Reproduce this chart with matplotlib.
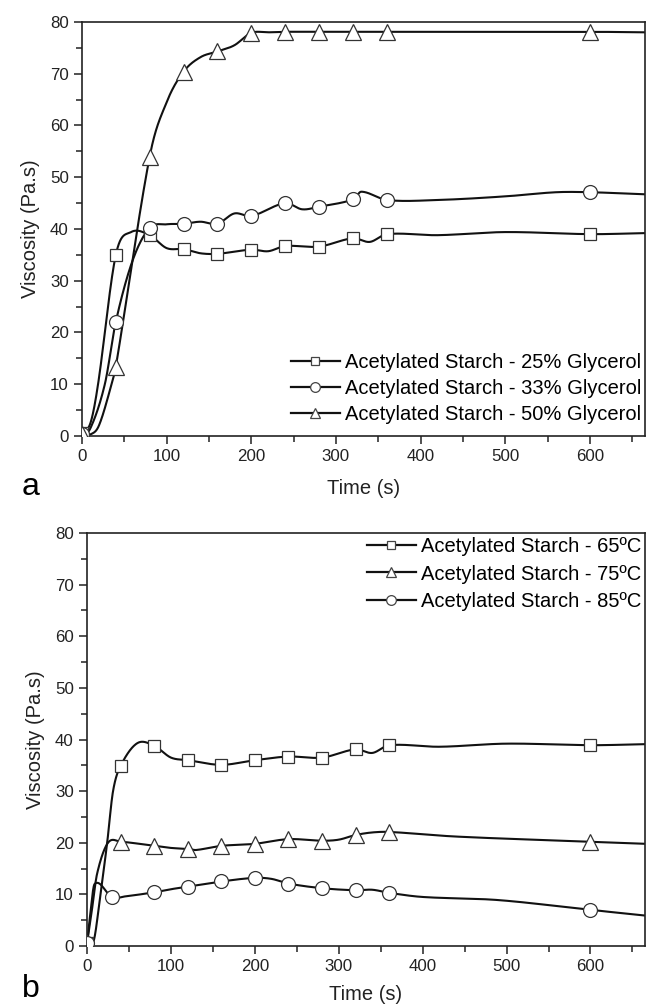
import numpy as np
import matplotlib
matplotlib.use("Agg")
import matplotlib.pyplot as plt
from matplotlib.ticker import MultipleLocator

plt.rcParams['font.family'] = ['Liberation Sans', 'DejaVu Sans']

# ---- panel a: glycerol content ----
t_a = [0, 40, 80, 120, 160, 200, 240, 280, 320, 360, 600]
g25 = [0.5, 35, 38.8, 36.1, 35.2, 36, 36.7, 36.6, 38.2, 39, 39]
g33 = [0.3, 22.1, 40.2, 41, 41, 42.5, 45, 44.3, 45.7, 45.6, 47.1]
g50 = [0.3, 13.4, 54, 70.4, 74.3, 77.9, 78.1, 78.1, 78.1, 78.1, 78.1]
# readings of the curve between the markers (line only)
g25_t = [10, 19, 58, 100, 140, 220, 340, 420, 500, 665]
g25_v = [2.5, 10, 39.4, 36.3, 35.3, 35.7, 37.5, 38.8, 39.4, 39.2]
g33_t = [10, 27, 60, 100, 140, 180, 260, 330, 420, 500, 560, 665]
g33_v = [1.5, 10, 34, 40.9, 41.4, 43.0, 43.8, 47.2, 45.6, 46.3, 47.1, 46.7]
g50_t = [10, 20, 35, 100, 140, 180, 220, 665]
g50_v = [0.3, 2, 10, 64.5, 73.2, 75.5, 78, 78]

# ---- panel b: temperature ----
t_b = [0, 40, 80, 120, 160, 200, 240, 280, 320, 360, 600]
t_b85 = [0, 30, 80, 120, 160, 200, 240, 280, 320, 360, 600]
c65 = [0.5, 34.9, 38.8, 36, 35.1, 36, 36.7, 36.5, 38.1, 38.9, 38.9]
c75 = [0.5, 20.2, 19.4, 18.8, 19.4, 19.8, 20.7, 20.4, 21.5, 22.1, 20.2]
c85 = [0.5, 9.4, 10.4, 11.5, 12.5, 13.2, 12.1, 11.2, 10.8, 10.3, 7.0]
c65_t = [8, 16, 24, 31, 60, 100, 340, 420, 500, 665]
c65_v = [1, 10, 20, 30, 39.3, 36.5, 37.4, 38.6, 39.2, 39.1]
c75_t = [5, 12, 25, 100, 130, 300, 340, 440, 665]
c75_v = [6, 14, 20, 19.0, 18.6, 20.6, 22, 21.2, 19.8]
c85_t = [3, 9, 45, 100, 220, 340, 400, 490, 665]
c85_v = [5, 12, 9.6, 11, 13, 10.9, 9.5, 8.9, 5.9]

labels_a = ['Acetylated Starch - 25% Glycerol',
            'Acetylated Starch - 33% Glycerol',
            'Acetylated Starch - 50% Glycerol']
labels_b = ['Acetylated Starch - 65ºC',
            'Acetylated Starch - 75ºC',
            'Acetylated Starch - 85ºC']


def smooth(t1, v1, t2, v2, n=1500):
    # cubic hermite through all knots, catmull-rom slopes
    x = np.array(list(t1) + list(t2), float)
    y = np.array(list(v1) + list(v2), float)
    o = np.argsort(x)
    x, y = x[o], y[o]
    m = np.zeros_like(y)
    m[1:-1] = (y[2:] - y[:-2]) / (x[2:] - x[:-2])
    m[0] = (y[1] - y[0]) / (x[1] - x[0])
    m[-1] = (y[-1] - y[-2]) / (x[-1] - x[-2])
    xs = np.linspace(x[0], x[-1], n)
    i = np.clip(np.searchsorted(x, xs) - 1, 0, len(x) - 2)
    h = x[i + 1] - x[i]
    s = (xs - x[i]) / h
    h00 = 2 * s**3 - 3 * s**2 + 1
    h10 = s**3 - 2 * s**2 + s
    h01 = -2 * s**3 + 3 * s**2
    h11 = s**3 - s**2
    ys = h00 * y[i] + h10 * h * m[i] + h01 * y[i + 1] + h11 * h * m[i + 1]
    return xs, ys


def series(ax, t, v, tx, vx, marker, ms, label):
    xs, ys = smooth(t, v, tx, vx)
    ax.plot(xs, ys, color='#111111', lw=1.5, zorder=2)
    ax.plot(t, v, ls='none', marker=marker, ms=ms, mfc='white',
            mec='#333333', mew=0.9, zorder=3)
    # legend proxy
    ax.plot([], [], color='#111111', lw=1.6, marker=marker, ms=ms * 0.7,
            mfc='white', mec='#444444', mew=0.9, label=label)


def style(ax):
    ax.set_xlim(0, 665)
    ax.set_ylim(0, 80)
    ax.xaxis.set_major_locator(MultipleLocator(100))
    ax.xaxis.set_minor_locator(MultipleLocator(50))
    ax.yaxis.set_major_locator(MultipleLocator(10))
    ax.yaxis.set_minor_locator(MultipleLocator(5))
    ax.tick_params(which='both', direction='out', top=False, right=False,
                   width=1.1, labelsize=12.2, pad=3.5, colors='#222222')
    ax.tick_params(which='major', length=6)
    ax.tick_params(which='minor', length=4)
    for sp in ax.spines.values():
        sp.set_linewidth(1.2)
        sp.set_color('#222222')
    ax.set_ylabel('Viscosity (Pa.s)', fontsize=14.5, labelpad=7, color='#222222')


fig = plt.figure(figsize=(6.47, 10.08), dpi=100)
ax1 = fig.add_axes([0.1267, 0.5675, 0.9969 - 0.1267, 0.9782 - 0.5675])
ax2 = fig.add_axes([0.1345, 0.0615, 0.9969 - 0.1345, 0.4712 - 0.0615])

series(ax1, t_a, g25, g25_t, g25_v, 's', 9, labels_a[0])
series(ax1, t_a, g33, g33_t, g33_v, 'o', 10, labels_a[1])
series(ax1, t_a, g50, g50_t, g50_v, '^', 11, labels_a[2])
style(ax1)
ax1.set_xlabel('Time (s)', fontsize=14.5, labelpad=11, color='#222222')
ax1.legend(loc='lower right', bbox_to_anchor=(1.0, 0.02), frameon=False,
           fontsize=14.5, handlelength=2.4, handletextpad=0.25,
           labelspacing=0.33, borderaxespad=0.0, borderpad=0.2)

series(ax2, t_b, c65, c65_t, c65_v, 's', 9, labels_b[0])
series(ax2, t_b, c75, c75_t, c75_v, '^', 11, labels_b[1])
series(ax2, t_b85, c85, c85_t, c85_v, 'o', 10, labels_b[2])
style(ax2)
ax2.set_xlabel('Time (s)', fontsize=14.5, labelpad=8, color='#222222')
ax2.legend(loc='upper right', bbox_to_anchor=(1.0, 1.0), frameon=False,
           fontsize=14.5, handlelength=2.4, handletextpad=0.25,
           labelspacing=0.42, borderaxespad=0.0, borderpad=0.2)

fig.text(31 / 647, 1 - 487 / 1008, 'a', fontsize=23, ha='center', va='center')
fig.text(31 / 647, 1 - 989 / 1008, 'b', fontsize=23, ha='center', va='center')

fig.savefig('out.png', dpi=100)
